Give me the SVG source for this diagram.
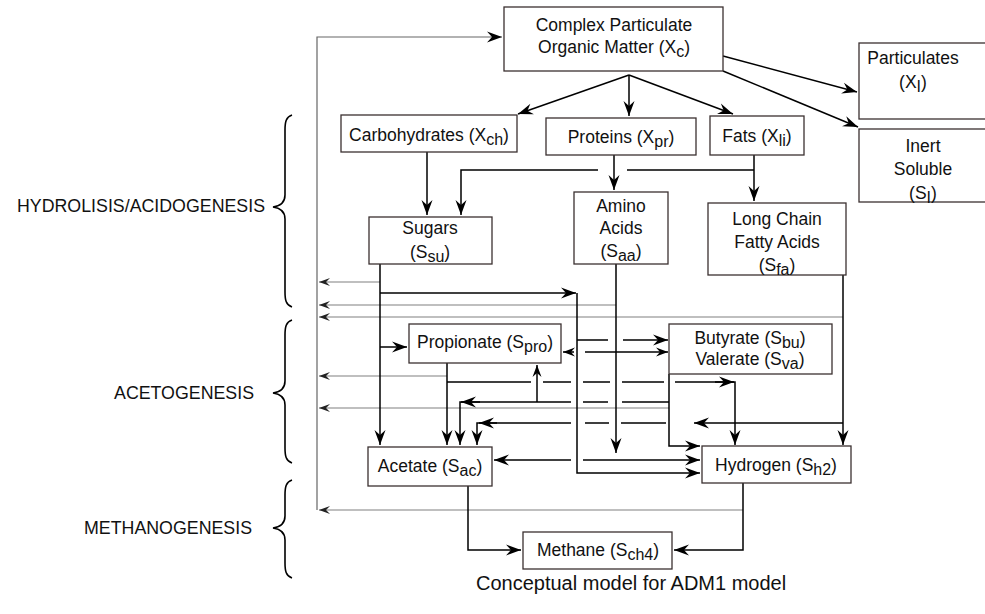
<svg xmlns="http://www.w3.org/2000/svg" width="985" height="614" viewBox="0 0 985 614">
<style>
text{font-family:"Liberation Sans",Arial,sans-serif;font-size:17.5px;fill:#111;text-anchor:middle}
.sub{font-size:16px}
.box{fill:#fff;stroke:#3b3030;stroke-width:1.3}
.ln{fill:none;stroke:#000;stroke-width:1.5}
.gr{fill:none;stroke:#aaa;stroke-width:1.5}
.fb{fill:none;stroke:#666;stroke-width:1.2}
.br{fill:none;stroke:#000;stroke-width:1.6}
.lbl{text-anchor:end;font-size:17.8px}
</style>
<defs>
<marker id="ah" viewBox="-16 -6 16 12" refX="0" refY="0" markerWidth="16" markerHeight="12" markerUnits="userSpaceOnUse" orient="auto"><path d="M0,0 L-15,-5.5 L-10,0 L-15,5.5 Z" fill="#000"/></marker>
<marker id="as" viewBox="-13 -5 13 10" refX="0" refY="0" markerWidth="13" markerHeight="10" markerUnits="userSpaceOnUse" orient="auto"><path d="M0,0 L-12,-4.5 L-8,0 L-12,4.5 Z" fill="#000"/></marker>
<marker id="ag" viewBox="-12 -5 12 10" refX="0" refY="0" markerWidth="12" markerHeight="10" markerUnits="userSpaceOnUse" orient="auto"><path d="M0,0 L-11,-4 L-7,0 L-11,4 Z" fill="#222"/></marker>
</defs>
<rect width="985" height="614" fill="#fff"/>

<g id="connectors">
<path class="fb" d="M317,510 V37 H502" marker-end="url(#ah)"/>
<path class="gr" d="M380,282 H319" marker-end="url(#ag)"/>
<path class="gr" d="M616,305 H319" marker-end="url(#ag)"/>
<path class="gr" d="M843,317 H319" marker-end="url(#ag)"/>
<path class="gr" d="M447,376 H319" marker-end="url(#ag)"/>
<path class="gr" d="M669,408 H319" marker-end="url(#ag)"/>
<path class="gr" d="M743,510 H319" marker-end="url(#ag)"/>
<path class="ln" d="M629,75 L518,114" marker-end="url(#ah)"/>
<path class="ln" d="M629,75 V116" marker-end="url(#ah)"/>
<path class="ln" d="M629,75 L733,114" marker-end="url(#ah)"/>
<path class="ln" d="M723,56 L857,92" marker-end="url(#ah)"/>
<path class="ln" d="M723,71 L858,127" marker-end="url(#ah)"/>
<path class="ln" d="M427,152 V215" marker-end="url(#ah)"/>
<path class="ln" d="M614,155 V190" marker-end="url(#ah)"/>
<path class="ln" d="M754,155 V201" marker-end="url(#ah)"/>
<path class="ln" d="M754,170 H627 M598,170 H461 V215" marker-end="url(#ah)"/>
<path class="ln" d="M380,264 V445" marker-end="url(#ah)"/>
<path class="ln" d="M380,293 H576" marker-end="url(#ah)"/>
<path class="ln" d="M577,293 V473 H700" marker-end="url(#ah)"/>
<path class="ln" d="M380,347 H407" marker-end="url(#ah)"/>
<path class="ln" d="M577,340 H608 M623,340 H668" marker-end="url(#ah)"/>
<path class="ln" d="M616,264 V453" marker-end="url(#ah)"/>
<path class="ln" d="M616,352 H668" marker-end="url(#as)"/>
<path class="ln" d="M616,352 H585 M574,352 H563" marker-end="url(#as)"/>
<path class="ln" d="M583,460 H700" marker-end="url(#ah)"/>
<path class="ln" d="M571,460 H494" marker-end="url(#ah)"/>
<path class="ln" d="M843,275 V445" marker-end="url(#ah)"/>
<path class="ln" d="M843,423 H694" marker-end="url(#ah)"/>
<path class="ln" d="M666,423 H621 M609,423 H585 M571,423 H477 V445" marker-end="url(#ah)"/>
<path class="ln" d="M497,423 H479" marker-end="url(#ah)"/>
<path class="ln" d="M447,363 V445" marker-end="url(#ah)"/>
<path class="ln" d="M447,382 H531 M543,382 H571 M583,382 H610 M622,382 H664 M675,382 H735 V445" marker-end="url(#ah)"/>
<path class="ln" d="M715,382 H734" marker-end="url(#ah)"/>
<path class="ln" d="M669,374 V446 H700" marker-end="url(#ah)"/>
<path class="ln" d="M669,402 H622 M608,402 H583 M571,402 H460 V445" marker-end="url(#ah)"/>
<path class="ln" d="M480,402 H461" marker-end="url(#ah)"/>
<path class="ln" d="M537,402 V365" marker-end="url(#as)"/>
<path class="ln" d="M468,486 V550 H521" marker-end="url(#ah)"/>
<path class="ln" d="M743,483 V550 H674" marker-end="url(#ah)"/>
</g>

<g id="xc"><rect class="box" x="504" y="7" width="219" height="64"/>
<text x="614" y="31">Complex Particulate</text>
<text x="614" y="53">Organic Matter (X<tspan class="sub" dy="4">c</tspan><tspan dy="-4">)</tspan></text></g>

<g id="xi"><rect class="box" x="859" y="43" width="140" height="76"/>
<text x="913" y="64">Particulates</text>
<text x="913" y="88">(X<tspan class="sub" dy="4">I</tspan><tspan dy="-4">)</tspan></text></g>

<g id="si"><rect class="box" x="859" y="129" width="140" height="73"/>
<text x="923" y="152">Inert</text>
<text x="923" y="175">Soluble</text>
<text x="923" y="199">(S<tspan class="sub" dy="4">I</tspan><tspan dy="-4">)</tspan></text></g>

<g id="xch"><rect class="box" x="341" y="115" width="176" height="37"/>
<text x="429" y="141">Carbohydrates (X<tspan class="sub" dy="4">ch</tspan><tspan dy="-4">)</tspan></text></g>

<g id="xpr"><rect class="box" x="546" y="118" width="150" height="37"/>
<text x="621" y="143">Proteins (X<tspan class="sub" dy="4">pr</tspan><tspan dy="-4">)</tspan></text></g>

<g id="xli"><rect class="box" x="710" y="116" width="94" height="39"/>
<text x="757" y="142">Fats (X<tspan class="sub" dy="4">li</tspan><tspan dy="-4">)</tspan></text></g>

<g id="ssu"><rect class="box" x="369" y="217" width="123" height="47"/>
<text x="430" y="234">Sugars</text>
<text x="430" y="258">(S<tspan class="sub" dy="4">su</tspan><tspan dy="-4">)</tspan></text></g>

<g id="saa"><rect class="box" x="574" y="192" width="94" height="72"/>
<text x="621" y="212">Amino</text>
<text x="621" y="234">Acids</text>
<text x="621" y="257">(S<tspan class="sub" dy="4">aa</tspan><tspan dy="-4">)</tspan></text></g>

<g id="sfa"><rect class="box" x="708" y="203" width="138" height="72"/>
<text x="777" y="225">Long Chain</text>
<text x="777" y="248">Fatty Acids</text>
<text x="777" y="271">(S<tspan class="sub" dy="4">fa</tspan><tspan dy="-4">)</tspan></text></g>

<g id="spro"><rect class="box" x="409" y="324" width="152" height="39"/>
<text x="485" y="348">Propionate (S<tspan class="sub" dy="4">pro</tspan><tspan dy="-4">)</tspan></text></g>

<g id="sbu"><rect class="box" x="669" y="324" width="163" height="50"/>
<text x="750" y="344">Butyrate (S<tspan class="sub" dy="4">bu</tspan><tspan dy="-4">)</tspan></text>
<text x="750" y="365">Valerate (S<tspan class="sub" dy="4">va</tspan><tspan dy="-4">)</tspan></text></g>

<g id="sac"><rect class="box" x="368" y="447" width="124" height="39"/>
<text x="430" y="472">Acetate (S<tspan class="sub" dy="4">ac</tspan><tspan dy="-4">)</tspan></text></g>

<g id="sh2"><rect class="box" x="702" y="446" width="149" height="37"/>
<text x="776" y="471">Hydrogen (S<tspan class="sub" dy="4">h2</tspan><tspan dy="-4">)</tspan></text></g>

<g id="sch4"><rect class="box" x="523" y="532" width="149" height="37"/>
<text x="598" y="556">Methane (S<tspan class="sub" dy="4">ch4</tspan><tspan dy="-4">)</tspan></text></g>

<g id="stages">
<path class="br" d="M292,115 C286,117 285,122 285,130 L285,195 C285,202 280,206 273,207 C280,208 285,212 285,219 L285,292 C285,300 286,305 292,307"/>
<path class="br" d="M292,320 C286,322 285,327 285,335 L285,381 C285,388 280,392 273,393 C280,394 285,398 285,405 L285,448 C285,456 286,461 292,463"/>
<path class="br" d="M292,480 C286,482 285,487 285,495 L285,516 C285,523 280,527 273,528 C280,529 285,533 285,540 L285,563 C285,571 286,576 292,578"/>
<text class="lbl" x="265" y="212">HYDROLISIS/ACIDOGENESIS</text>
<text class="lbl" x="254" y="399">ACETOGENESIS</text>
<text class="lbl" x="252" y="534">METHANOGENESIS</text>
</g>

<text x="476" y="590" style="font-size:20px;text-anchor:start">Conceptual model for ADM1 model</text>
</svg>
